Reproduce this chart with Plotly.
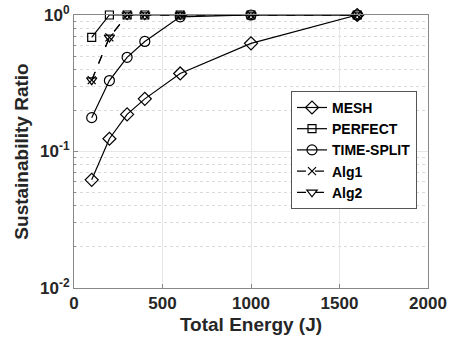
import plotly.graph_objects as go

energy = [100, 200, 300, 400, 600, 1000, 1600]
mesh = [0.062, 0.124, 0.187, 0.243, 0.373, 0.62, 1.0]
perfect = [0.685, 1.0, 1.0, 1.0, 1.0, 1.0, 1.0]
time_split = [0.177, 0.331, 0.49, 0.64, 0.97, 1.0, 1.0]
alg1 = [0.333, 0.685, 1.0, 1.0, 1.0, 1.0, 1.0]
alg2 = [0.333, 0.685, 1.0, 1.0, 1.0, 1.0, 1.0]

series = [
    ("MESH", mesh, "diamond-open", "solid", 10),
    ("PERFECT", perfect, "square-open", "solid", 8),
    ("TIME-SPLIT", time_split, "circle-open", "solid", 10),
    ("Alg1", alg1, "x-thin-open", "dash", 8),
    ("Alg2", alg2, "triangle-down-open", "dash", 9),
]

fig = go.Figure()
for name, ys, sym, dash, sz in series:
    fig.add_trace(go.Scatter(
        x=energy, y=ys, name=name, mode="lines+markers", cliponaxis=False,
        line=dict(color="black", width=1.2, dash=dash),
        marker=dict(symbol=sym, size=sz, color="black",
                    line=dict(color="black", width=1.2)),
    ))

font = "Liberation Sans, Arial, sans-serif"
fig.update_layout(
    width=451, height=340,
    margin=dict(l=74, r=23, t=15, b=52, autoexpand=False),
    paper_bgcolor="white", plot_bgcolor="white",
    font=dict(family=font, color="#262626"),
    showlegend=True,
    legend=dict(
        x=0.613, y=0.722, xanchor="left", yanchor="top",
        bgcolor="white", bordercolor="#555555", borderwidth=1,
        font=dict(family=font, size=14, color="black", weight="bold"),
        tracegroupgap=0, itemwidth=30,
    ),
    xaxis=dict(
        range=[0, 2000], tickvals=[0, 500, 1000, 1500, 2000],
        automargin=False,
        showline=True, linecolor="#888888", linewidth=1, mirror=True,
        showgrid=True, gridcolor="#e6e6e6", gridwidth=1,
        ticks="inside", ticklen=4, tickcolor="#888888",
        zeroline=False,
        tickfont=dict(family=font, size=17, color="#262626", weight="bold"),
        title=dict(text="Total Energy (J)", standoff=5,
                   font=dict(family=font, size=19, color="#262626", weight="bold")),
    ),
    yaxis=dict(
        type="log", range=[-2, 0],
        tickvals=[0.01, 0.1, 1],
        ticktext=["10<sup>-2</sup>", "10<sup>-1</sup>", "10<sup>0</sup>"],
        automargin=False,
        showline=True, linecolor="#888888", linewidth=1, mirror=True,
        showgrid=True, gridcolor="#e6e6e6", gridwidth=1,
        ticks="inside", ticklen=4, tickcolor="#888888",
        zeroline=False,
        tickfont=dict(family=font, size=17, color="#262626", weight="bold"),
        minor=dict(tickvals=[k * 10 ** e for e in (-2, -1) for k in range(2, 10)],
                   showgrid=True, gridcolor="#d9d9d9", griddash="dot", gridwidth=1,
                   ticks="inside", ticklen=2, tickcolor="#888888"),
        title=dict(text="Sustainability Ratio", standoff=6,
                   font=dict(family=font, size=19, color="#262626", weight="bold")),
    ),
)

fig.write_html("out.html")
